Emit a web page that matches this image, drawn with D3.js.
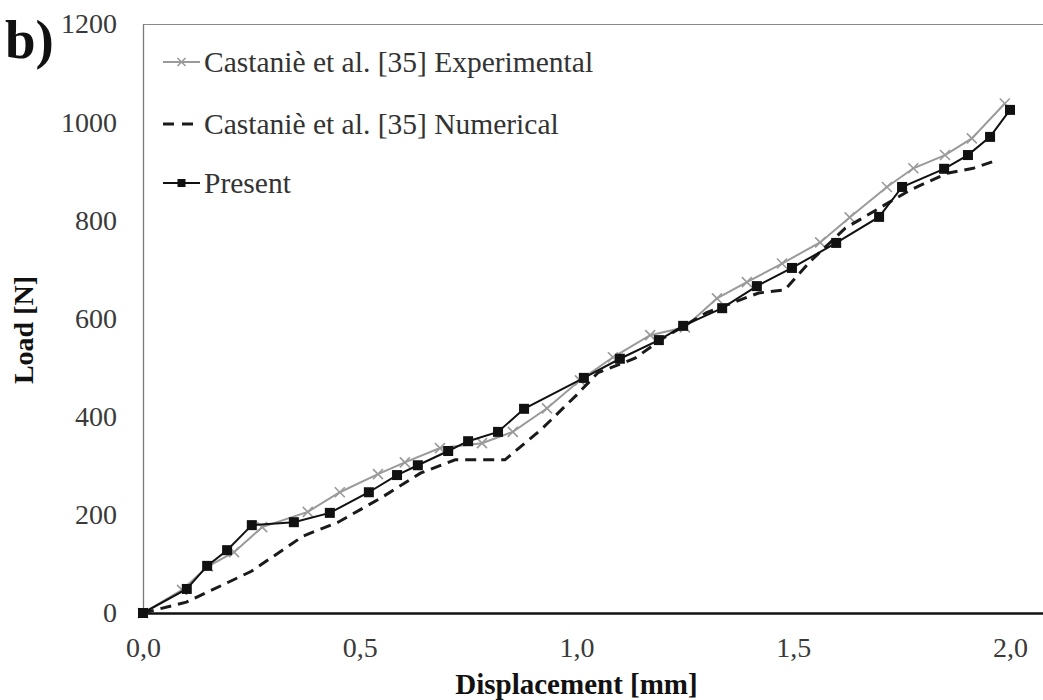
<!DOCTYPE html>
<html>
<head>
<meta charset="utf-8">
<script src="https://cdn.jsdelivr.net/npm/d3@7"></script>
<style>
  html, body { margin: 0; padding: 0; background: #fff; }
  svg { display: block; }
  text { font-family: "Liberation Serif", "Times New Roman", serif; }
</style>
</head>
<body>
<svg id="chart" width="1043" height="700"></svg>
<script>
// ---- data ----
const expX = [0, 0.09, 0.15, 0.21, 0.275, 0.38, 0.454, 0.542, 0.604, 0.685, 0.782, 0.853, 0.932, 1.008, 1.084, 1.17, 1.25, 1.324, 1.393, 1.474, 1.562, 1.63, 1.716, 1.777, 1.85, 1.912, 1.988];
const expY = [0, 47, 95, 124, 175, 206, 246, 283, 307, 336, 346, 369, 417, 474, 521, 566, 582, 641, 674, 712, 755, 806, 868, 906, 933, 967, 1038];

const numX = [0, 0.1, 0.25, 0.37, 0.45, 0.55, 0.64, 0.72, 0.835, 0.92, 1.0, 1.05, 1.135, 1.2, 1.3, 1.42, 1.48, 1.54, 1.62, 1.67, 1.72, 1.77, 1.855, 1.915, 1.965];
const numY = [0, 22, 85, 157, 185, 235, 285, 312, 312, 375, 444, 490, 519, 560, 612, 652, 658, 717, 784, 810, 836, 862, 896, 906, 921];

const preX = [0, 0.101, 0.148, 0.194, 0.251, 0.348, 0.431, 0.521, 0.586, 0.634, 0.704, 0.75, 0.819, 0.879, 1.017, 1.1, 1.19, 1.246, 1.336, 1.416, 1.497, 1.599, 1.698, 1.751, 1.848, 1.903, 1.954, 2.0];
const preY = [0, 49, 96, 128, 179, 185, 204, 246, 281, 301, 330, 350, 369, 416, 479, 518, 556, 585, 621, 666, 703, 754, 807, 868, 905, 933, 970, 1025];

const xTicks = [0, 0.5, 1.0, 1.5, 2.0];
const yTicks = [0, 200, 400, 600, 800, 1000, 1200];
const legendLabels = ["Castaniè et al. [35] Experimental", "Castaniè et al. [35] Numerical", "Present"];

// ---- layout ----
const svg = d3.select("#chart");
const pLeft = 143, pRight = 1043, pTop = 24, pBottom = 613;
const x = d3.scaleLinear().domain([0, 2.0761]).range([pLeft, pRight]);
const y = d3.scaleLinear().domain([0, 1200]).range([pBottom, pTop]);
const fmt = d => d3.format(".1f")(d).replace(".", ",");

// plot border (top gray)
svg.append("line").attr("x1", pLeft).attr("x2", pRight).attr("y1", pTop + 0.5).attr("y2", pTop + 0.5)
  .attr("stroke", "#8a8a8a").attr("stroke-width", 1.2);

// y axis
const yAxis = svg.append("g").attr("transform", `translate(${pLeft},0)`)
  .call(d3.axisLeft(y).tickValues(yTicks).tickSize(0).tickPadding(26).tickFormat(d3.format("d")));
yAxis.select(".domain").attr("stroke", "#7a7a7a").attr("stroke-width", 1.3);
yAxis.selectAll("text").attr("font-size", 28).attr("fill", "#3a3a3a")
  .attr("font-family", "'Liberation Serif', 'Times New Roman', serif");

// x axis
const xAxis = svg.append("g").attr("transform", `translate(0,${pBottom})`)
  .call(d3.axisBottom(x).tickValues(xTicks).tickSize(0).tickPadding(24).tickFormat(fmt));
xAxis.select(".domain").attr("stroke", "#111").attr("stroke-width", 2.4);
xAxis.selectAll("text").attr("font-size", 28).attr("fill", "#3a3a3a")
  .attr("font-family", "'Liberation Serif', 'Times New Roman', serif");

// axis titles
svg.append("text").attr("x", (x(0) + x(2)) / 2).attr("y", 694).attr("text-anchor", "middle")
  .attr("font-size", 29).attr("font-weight", "bold").attr("fill", "#111").text("Displacement [mm]");
svg.append("text").attr("transform", "translate(33,330) rotate(-90)").attr("text-anchor", "middle")
  .attr("font-size", 28).attr("font-weight", "bold").attr("fill", "#111").text("Load [N]");

// panel label
svg.append("text").attr("x", 5).attr("y", 58).attr("font-size", 55).attr("font-weight", "bold")
  .attr("fill", "#111").text("b)");

// ---- series ----
const line = d3.line().x(d => x(d[0])).y(d => y(d[1]));
const expData = expX.map((v, i) => [v, expY[i]]);
const numData = numX.map((v, i) => [v, numY[i]]);
const preData = preX.map((v, i) => [v, preY[i]]);

const gExp = svg.append("g");
gExp.append("path").datum(expData).attr("d", line).attr("fill", "none")
  .attr("stroke", "#9a9a9a").attr("stroke-width", 2);
const xMark = (g, cx, cy, s) => {
  g.append("path").attr("d", `M${cx - s},${cy - s}L${cx + s},${cy + s}M${cx - s},${cy + s}L${cx + s},${cy - s}`)
    .attr("stroke", "#9a9a9a").attr("stroke-width", 1.6).attr("fill", "none");
};
expData.forEach(d => xMark(gExp, x(d[0]), y(d[1]), 5));

svg.append("path").datum(numData).attr("d", line).attr("fill", "none")
  .attr("stroke", "#1a1a1a").attr("stroke-width", 3).attr("stroke-dasharray", "11,7");

const gPre = svg.append("g");
gPre.append("path").datum(preData).attr("d", line).attr("fill", "none")
  .attr("stroke", "#111").attr("stroke-width", 2);
gPre.selectAll("rect").data(preData).join("rect")
  .attr("x", d => x(d[0]) - 5).attr("y", d => y(d[1]) - 5)
  .attr("width", 10).attr("height", 10).attr("fill", "#111");

// ---- legend ----
const legY = [62, 124, 183];
const lx0 = 163, lx1 = 200;
const leg = svg.append("g");
leg.append("line").attr("x1", lx0).attr("x2", lx1).attr("y1", legY[0]).attr("y2", legY[0])
  .attr("stroke", "#9a9a9a").attr("stroke-width", 2);
xMark(leg, (lx0 + lx1) / 2, legY[0], 4);
leg.append("line").attr("x1", lx0).attr("x2", lx1).attr("y1", legY[1]).attr("y2", legY[1])
  .attr("stroke", "#1a1a1a").attr("stroke-width", 3).attr("stroke-dasharray", "11,8");
leg.append("line").attr("x1", lx0).attr("x2", lx1).attr("y1", legY[2]).attr("y2", legY[2])
  .attr("stroke", "#111").attr("stroke-width", 2);
leg.append("rect").attr("x", (lx0 + lx1) / 2 - 4).attr("y", legY[2] - 4).attr("width", 8).attr("height", 8).attr("fill", "#111");

legendLabels.forEach((t, i) => {
  leg.append("text").attr("x", 204).attr("y", legY[i]).attr("dy", "0.35em")
    .attr("font-size", 29.5).attr("fill", "#333").text(t);
});
</script>
</body>
</html>
